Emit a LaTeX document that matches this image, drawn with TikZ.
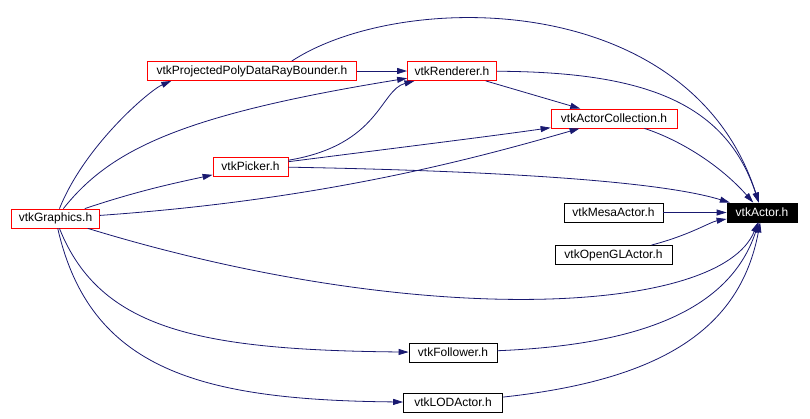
\documentclass[tikz,border=0pt]{standalone}
\usepackage{fontspec}
\setmainfont{Liberation Sans}
\usepackage{xcolor}
\usepackage{tikz}
\usetikzlibrary{arrows.meta}
\definecolor{dgEdge}{HTML}{191970}
\definecolor{dgRed}{HTML}{FF0000}
\definecolor{dgBlack}{HTML}{000000}
\definecolor{dgWhite}{HTML}{FFFFFF}
\tikzset{
  dg-box/.style={
    draw=dgBlack, line width=0.8pt, fill=dgWhite,
    font=\fontsize{12}{14}\selectfont, inner xsep=3pt, inner ysep=2pt,
    minimum height=19pt
  },
  dg-red/.style={dg-box, draw=dgRed},
  dg-root/.style={dg-box, fill=dgBlack, text=dgWhite},
  dg-dep/.style={-{Triangle[length=10pt,width=6pt]}, line width=0.8pt, draw=dgEdge}
}

\begin{document}
\begin{tikzpicture}[x=1pt, y=-1pt]
\useasboundingbox (0,0) rectangle (810,418);
% Headers
\node[dg-red, minimum width=209pt] (ppd) at (252,71) {vtkProjectedPolyDataRayBounder.h};
\node[dg-red, minimum width=89pt] (renderer) at (452,71) {vtkRenderer.h};
\node[dg-red, minimum width=126pt] (collection) at (614,118.5) {vtkActorCollection.h};
\node[dg-red, minimum width=75pt] (picker) at (250.5,166.5) {vtkPicker.h};
\node[dg-red, minimum width=88pt] (graphics) at (55.5,218.5) {vtkGraphics.h};
\node[dg-box, minimum width=99pt] (mesa) at (613.5,212.5) {vtkMesaActor.h};
\node[dg-root, minimum width=70pt] (actor) at (762,212.5) {vtkActor.h};
\node[dg-box, minimum width=117pt] (opengl) at (613.5,255) {vtkOpenGLActor.h};
\node[dg-box, minimum width=88pt] (follower) at (453,352.5) {vtkFollower.h};
\node[dg-box, minimum width=99pt] (lod) at (453,402.5) {vtkLODActor.h};
% Dependencies
\draw[dg-dep] (ppd) -- (renderer);
\draw[dg-dep] (ppd.14) .. controls (400,-10) and (690,-12) .. (actor);
\draw[dg-dep] (renderer) -- (collection);
\draw[dg-dep] (renderer) .. controls (640,72) and (725,100) .. (actor);
\draw[dg-dep] (collection) .. controls (680,140) and (720,165) .. (actor);
\draw[dg-dep] (picker) .. controls (380,145) and (380,90) .. (renderer);
\draw[dg-dep] (picker) .. controls (420,145) and (500,135) .. (collection);
\draw[dg-dep] (picker) .. controls (450,170) and (650,178) .. (actor);
\draw[dg-dep] (graphics) .. controls (85,145) and (150,90) .. (ppd.187);
\draw[dg-dep] (graphics) .. controls (110,150) and (180,115) .. (renderer);
\draw[dg-dep] (graphics) .. controls (140,190) and (180,182) .. (picker);
\draw[dg-dep] (graphics) .. controls (320,200) and (470,160) .. (collection);
\draw[dg-dep] (graphics) .. controls (420,330) and (720,315) .. (actor);
\draw[dg-dep] (graphics) .. controls (100,330) and (200,350) .. (follower);
\draw[dg-dep] (graphics) .. controls (90,370) and (200,400) .. (lod);
\draw[dg-dep] (mesa) -- (actor);
\draw[dg-dep] (opengl) .. controls (690,235) and (710,222) .. (actor);
\draw[dg-dep] (follower) .. controls (640,345) and (730,310) .. (actor);
\draw[dg-dep] (lod) .. controls (660,380) and (740,330) .. (actor);
\end{tikzpicture}
\end{document}
